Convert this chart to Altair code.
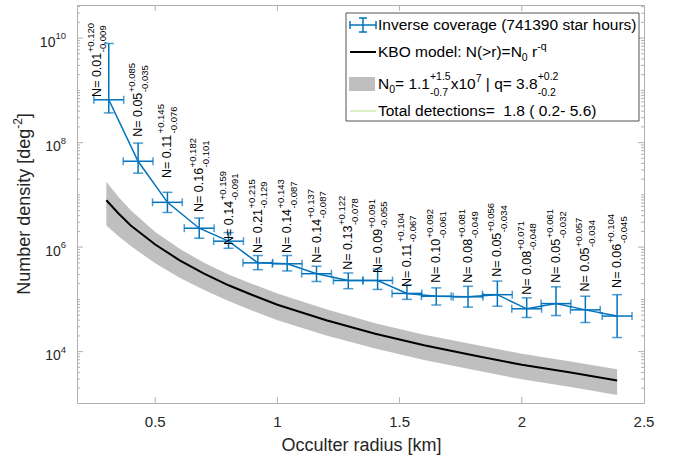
import altair as alt
import pandas as pd

# ---------------- data ----------------
radius = [0.31, 0.43, 0.55, 0.68, 0.80, 0.92, 1.04, 1.16, 1.29, 1.41,
          1.53, 1.65, 1.78, 1.90, 2.02, 2.14, 2.26, 2.39]
density = [6.6e8, 4.4e7, 7.2e6, 2.3e6, 1.3e6, 5.0e5, 4.8e5, 3.1e5, 2.3e5, 2.3e5,
           1.3e5, 1.15e5, 1.12e5, 1.23e5, 6.6e4, 8.3e4, 6.3e4, 4.8e4]
density_hi = [7.9e9, 9.8e7, 1.12e7, 3.6e6, 1.9e6, 6.9e5, 6.9e5, 4.3e5, 3.2e5, 3.8e5,
              1.9e5, 1.66e5, 1.78e5, 2.24e5, 1.07e5, 1.74e5, 1.15e5, 1.23e5]
density_lo = [3.7e8, 2.6e7, 4.6e6, 1.48e6, 9.5e5, 3.7e5, 3.5e5, 2.2e5, 1.6e5, 1.55e5,
              1.0e5, 7.8e4, 7.1e4, 7.4e4, 4.5e4, 4.9e4, 3.6e4, 1.86e4]
bin_half_width = 0.061

n_value = ["0.01", "0.05", "0.11", "0.16", "0.14", "0.21", "0.14", "0.14", "0.13",
           "0.09", "0.11", "0.10", "0.08", "0.05", "0.08", "0.05", "0.05", "0.06"]
n_plus = ["+0.120", "+0.085", "+0.145", "+0.182", "+0.159", "+0.215", "+0.143", "+0.137",
          "+0.122", "+0.091", "+0.104", "+0.092", "+0.081", "+0.056", "+0.071", "+0.061",
          "+0.057", "+0.104"]
n_minus = ["-0.009", "-0.035", "-0.076", "-0.101", "-0.091", "-0.129", "-0.087", "-0.087",
           "-0.078", "-0.055", "-0.067", "-0.061", "-0.049", "-0.034", "-0.048", "-0.032",
           "-0.034", "-0.045"]
# where each annotation starts (radius, density)
label_r = [0.26] + radius[1:]
label_y = [7.5e8, 1.29e8, 2.1e7, 4.7e6, 1.1e6, 7.7e5, 7.7e5, 5.0e5, 3.7e5, 3.2e5,
           1.73e5, 2.07e5, 2.07e5, 2.7e5, 1.22e5, 2.07e5, 1.41e5, 1.66e5]

model_r = [0.3, 0.35, 0.4, 0.5, 0.6, 0.7, 0.8, 0.9, 1.0, 1.2, 1.4, 1.6, 1.8, 2.0, 2.2, 2.39]
model_mid = [7.9e6, 4.4e6, 2.6e6, 1.12e6, 5.6e5, 3.1e5, 1.86e5, 1.2e5, 7.9e4, 4.0e4,
             2.2e4, 1.32e4, 8.5e3, 5.6e3, 4.0e3, 2.8e3]
model_top = [1.78e7, 9.1e6, 5.1e6, 1.95e6, 9.3e5, 5.0e5, 3.0e5, 1.95e5, 1.29e5, 6.5e4,
             3.5e4, 2.1e4, 1.38e4, 9.1e3, 6.5e3, 4.6e3]
model_bot = [2.6e6, 1.62e6, 1.05e6, 4.9e5, 2.6e5, 1.51e5, 9.3e4, 6.0e4, 4.0e4, 2.04e4,
             1.15e4, 6.9e3, 4.5e3, 2.95e3, 2.1e3, 1.48e3]

x_ticks = [0.5, 1, 1.5, 2, 2.5]
x_tick_text = ["0.5", "1", "1.5", "2", "2.5"]
y_major = [1e4, 1e6, 1e8, 1e10]
y_major_exp = ["4", "6", "8", "10"]

# ---------------- styling / layout ----------------
FONT = "Liberation Sans"
W, H = 567, 398
PAD = {"left": 77, "top": 5, "right": 32, "bottom": 55}
BLUE = "#0072BD"
FRAME = "#b0b0b0"
TXT = "#262626"
NB = "\u00a0"

AW = {' ': 278, NB: 278, '(': 333, ')': 333, '+': 584, '-': 333, '.': 278, ':': 278,
      '<': 584, '=': 584, '>': 584, '[': 278, ']': 278, '|': 260,
      'A': 667, 'B': 667, 'C': 722, 'D': 722, 'E': 667, 'F': 611, 'G': 778, 'H': 722,
      'I': 278, 'J': 500, 'K': 667, 'L': 556, 'M': 833, 'N': 722, 'O': 778, 'P': 667,
      'Q': 778, 'R': 722, 'S': 667, 'T': 611, 'U': 722, 'V': 667, 'W': 944, 'X': 667,
      'Y': 667, 'Z': 611,
      'a': 556, 'b': 556, 'c': 500, 'd': 556, 'e': 556, 'f': 278, 'g': 556, 'h': 556,
      'i': 222, 'j': 222, 'k': 500, 'l': 222, 'm': 833, 'n': 556, 'o': 556, 'p': 556,
      'q': 556, 'r': 333, 's': 500, 't': 278, 'u': 556, 'v': 500, 'w': 722, 'x': 500,
      'y': 500, 'z': 500}


def tw(s, size):
    return sum(AW.get(c, 556) for c in s) * size / 1000.0


def nb(s):
    return s.replace(" ", NB)


XS = alt.Scale(domain=[0.18, 2.5], nice=False, zero=False)
YS = alt.Scale(type="log", domain=[1.04e3, 4.3e10], nice=False)

pts = pd.DataFrame({"r": radius, "n": density, "hi": density_hi, "lo": density_lo})
pts["rlo"] = pts["r"] - bin_half_width
pts["rhi"] = pts["r"] + bin_half_width

model = pd.DataFrame({"r": model_r, "mid": model_mid, "top": model_top, "bot": model_bot})

band = alt.Chart(model).mark_area(color="#bfbfbf", opacity=1).encode(
    x=alt.X("r:Q", scale=XS, axis=None),
    y=alt.Y("top:Q", scale=YS, axis=None),
    y2="bot:Q",
)
model_line = alt.Chart(model).mark_line(color="black", strokeWidth=2).encode(
    x=alt.X("r:Q", scale=XS, axis=None),
    y=alt.Y("mid:Q", scale=YS, axis=None),
)

base = alt.Chart(pts)
data_line = base.mark_line(color=BLUE, strokeWidth=1.5).encode(
    x=alt.X("r:Q", scale=XS, axis=None), y=alt.Y("n:Q", scale=YS, axis=None))
v_err = base.mark_rule(color=BLUE, strokeWidth=1.5).encode(
    x=alt.X("r:Q", scale=XS, axis=None), y=alt.Y("lo:Q", scale=YS, axis=None), y2="hi:Q")
v_cap_hi = base.mark_tick(color=BLUE, orient="horizontal", size=10, thickness=1.5).encode(
    x=alt.X("r:Q", scale=XS, axis=None), y=alt.Y("hi:Q", scale=YS, axis=None))
v_cap_lo = base.mark_tick(color=BLUE, orient="horizontal", size=10, thickness=1.5).encode(
    x=alt.X("r:Q", scale=XS, axis=None), y=alt.Y("lo:Q", scale=YS, axis=None))
h_err = base.mark_rule(color=BLUE, strokeWidth=1.5).encode(
    x=alt.X("rlo:Q", scale=XS, axis=None), x2="rhi:Q", y=alt.Y("n:Q", scale=YS, axis=None))
h_cap_lo = base.mark_tick(color=BLUE, orient="vertical", size=8, thickness=1.5).encode(
    x=alt.X("rlo:Q", scale=XS, axis=None), y=alt.Y("n:Q", scale=YS, axis=None))
h_cap_hi = base.mark_tick(color=BLUE, orient="vertical", size=8, thickness=1.5).encode(
    x=alt.X("rhi:Q", scale=XS, axis=None), y=alt.Y("n:Q", scale=YS, axis=None))

# ---------------- rotated annotations ----------------
labels = pd.DataFrame({"r": label_r, "y": label_y,
                       "main": [nb("N= " + v) for v in n_value],
                       "plus": n_plus, "minus": n_minus})
LF, SF = 12.5, 9.5
main_w = tw("N= 0.01", LF)
lab_enc = dict(x=alt.X("r:Q", scale=XS, axis=None), y=alt.Y("y:Q", scale=YS, axis=None))
lab_main = alt.Chart(labels).mark_text(angle=270, align="left", baseline="middle",
                                       fontSize=LF, font=FONT, color="black").encode(
    text="main:N", **lab_enc)
lab_plus = alt.Chart(labels).mark_text(angle=270, align="left", baseline="middle",
                                       fontSize=SF, font=FONT, color="black",
                                       dx=main_w + 0.5, dy=-6).encode(text="plus:N", **lab_enc)
lab_minus = alt.Chart(labels).mark_text(angle=270, align="left", baseline="middle",
                                        fontSize=SF, font=FONT, color="black",
                                        dx=main_w + 0.5, dy=6.5).encode(text="minus:N", **lab_enc)

# ---------------- inward ticks (MATLAB box style) ----------------
y_minor = [m * 10 ** k for k in range(3, 11) for m in range(1, 10)
           if not (m == 1 and k % 2 == 0) and 1.04e3 < m * 10 ** k < 4.3e10]
tk_major = pd.DataFrame({"v": y_major})
tk_minor = pd.DataFrame({"v": y_minor})
tk_x = pd.DataFrame({"v": x_ticks[:-1]})


def yticks(df, x1, x2):
    return alt.Chart(df).mark_rule(color=FRAME, strokeWidth=1).encode(
        y=alt.Y("v:Q", scale=YS, axis=None), x=alt.value(x1), x2=alt.value(x2))


def xticks(df, y1, y2):
    return alt.Chart(df).mark_rule(color=FRAME, strokeWidth=1).encode(
        x=alt.X("v:Q", scale=XS, axis=None), y=alt.value(y1), y2=alt.value(y2))


ticks = [yticks(tk_major, 0, 6), yticks(tk_major, W, W - 6),
         yticks(tk_minor, 0, 3), yticks(tk_minor, W, W - 3),
         xticks(tk_x, H, H - 6), xticks(tk_x, 0, 6)]

# ---------------- tick labels ----------------
xlab = pd.DataFrame({"v": x_ticks, "t": x_tick_text})
xlab_text = alt.Chart(xlab).mark_text(align="center", baseline="middle", fontSize=15,
                                      font=FONT, color=TXT).encode(
    x=alt.X("v:Q", scale=XS, axis=None), y=alt.value(H + 19), text="t:N")

BF, EF = 14, 9.5
YL_RIGHT = -11
ylab = pd.DataFrame({"v": y_major, "e": y_major_exp})
ylab["bx"] = [YL_RIGHT - tw(e, EF) for e in y_major_exp]
ylab["ex"] = YL_RIGHT
ylab["b"] = "10"
ylab_base = alt.Chart(ylab).mark_text(align="right", baseline="alphabetic", fontSize=BF,
                                      font=FONT, color=TXT, dy=8.5).encode(
    x=alt.X("bx:Q", scale=None, axis=None), y=alt.Y("v:Q", scale=YS, axis=None), text="b:N")
ylab_exp = alt.Chart(ylab).mark_text(align="right", baseline="alphabetic", fontSize=EF,
                                     font=FONT, color=TXT, dy=1.1).encode(
    x=alt.X("ex:Q", scale=None, axis=None), y=alt.Y("v:Q", scale=YS, axis=None), text="e:N")

# ---------------- axis titles ----------------
TF = 18
one = pd.DataFrame({"a": [0]})
x_title = alt.Chart(one).mark_text(align="center", baseline="middle", fontSize=TF,
                                   font=FONT, color=TXT, text="Occulter radius [km]").encode(
    x=alt.value(W / 2 + 1), y=alt.value(441))

yt_parts = [(nb("Number density [deg"), TF, 0), ("-2", 12, -7), ("]", TF, 0)]
yt_len = sum(tw(t, s) for t, s, _ in yt_parts)
yt_start = 199 + yt_len / 2
y_title = []
off = 0.0
for t, s, d in yt_parts:
    y_title.append(alt.Chart(one).mark_text(angle=270, align="left", baseline="middle",
                                            fontSize=s, font=FONT, color=TXT, text=t,
                                            dx=off, dy=d).encode(
        x=alt.value(-52), y=alt.value(yt_start)))
    off += tw(t, s)

# ---------------- legend (drawn by hand) ----------------
LX0 = 346 - PAD["left"]
LX1 = 639 - PAD["left"]
LY0 = 13 - PAD["top"]
LY1 = 121 - PAD["top"]
legend_box = alt.Chart(one).mark_rect(fill="white", stroke="#262626", strokeWidth=0.8).encode(
    x=alt.value(LX0), x2=alt.value(LX1), y=alt.value(LY0), y2=alt.value(LY1))

rows_y = [20, 47, 79, 106]
sx0, sx1 = LX0 + 4, LX0 + 30
sxc = (sx0 + sx1) / 2


def seg(x1, x2, y1, y2, color, width):
    return alt.Chart(one).mark_rule(color=color, strokeWidth=width).encode(
        x=alt.value(x1), x2=alt.value(x2), y=alt.value(y1), y2=alt.value(y2))


legend_syms = [
    seg(sx0, sx1, rows_y[0], rows_y[0], BLUE, 1.5),
    seg(sxc, sxc, rows_y[0] - 7, rows_y[0] + 7, BLUE, 1.5),
    seg(sxc - 4, sxc + 4, rows_y[0] - 7, rows_y[0] - 7, BLUE, 1.5),
    seg(sxc - 4, sxc + 4, rows_y[0] + 7, rows_y[0] + 7, BLUE, 1.5),
    seg(sx0, sx0, rows_y[0] - 4, rows_y[0] + 4, BLUE, 1.5),
    seg(sx1, sx1, rows_y[0] - 4, rows_y[0] + 4, BLUE, 1.5),
    seg(sx0, sx1, rows_y[1], rows_y[1], "black", 2),
    alt.Chart(one).mark_rect(color="#bfbfbf").encode(
        x=alt.value(sx0 - 1), x2=alt.value(sx1 - 1),
        y=alt.value(rows_y[2] - 7), y2=alt.value(rows_y[2] + 7)),
    seg(sx0, sx1, rows_y[3], rows_y[3], "#b5e08a", 1),
]

MF, SSF = 15.5, 10.5


def layout(parts, x0, base_y):
    out = []
    x = x0
    for p in parts:
        kind = p[0]
        if kind == "n":
            txt = p[1]
            stripped = txt.lstrip(" ")
            x += tw(txt[:len(txt) - len(stripped)], MF)   # leading blanks become an offset
            out.append((nb(stripped), x, base_y, MF))
            x += tw(stripped, MF)
        elif kind == "sup":
            out.append((p[1], x, base_y - 7, SSF))
            x += tw(p[1], SSF)
        elif kind == "sub":
            out.append((p[1], x, base_y + 4, SSF))
            x += tw(p[1], SSF)
        elif kind == "ss":
            out.append((p[1], x, base_y - 9, SSF))
            out.append((p[2], x, base_y + 7, SSF))
            x += max(tw(p[1], SSF), tw(p[2], SSF))
    return out


TX = 378 - PAD["left"]
pieces = []
pieces += layout([("n", "Inverse coverage (741390 star hours)")], TX, rows_y[0] + 5)
pieces += layout([("n", "KBO model: N(>r)=N"), ("sub", "0"), ("n", " r"), ("sup", "-q")],
                 TX, rows_y[1] + 5)
pieces += layout([("n", "N"), ("sub", "0"), ("n", "= 1.1"), ("ss", "+1.5", "-0.7"),
                  ("n", "x10"), ("sup", "7"), ("n", " | q= 3.8"), ("ss", "+0.2", "-0.2")],
                 TX, rows_y[2] + 5)
pieces += layout([("n", "Total detections=  1.8 ( 0.2- 5.6)")], TX, rows_y[3] + 5)
leg_txt = pd.DataFrame(pieces, columns=["t", "px", "py", "fs"])
legend_text = alt.Chart(leg_txt).mark_text(align="left", baseline="alphabetic", font=FONT,
                                           color="black").encode(
    x=alt.X("px:Q", scale=None, axis=None), y=alt.Y("py:Q", scale=None, axis=None),
    size=alt.Size("fs:Q", scale=None, legend=None), text="t:N")

layers = ([band, model_line, data_line, v_err, h_err, v_cap_hi, v_cap_lo, h_cap_lo, h_cap_hi,
           lab_main, lab_plus, lab_minus] + ticks + [xlab_text, ylab_base, ylab_exp, x_title]
          + y_title + [legend_box] + legend_syms + [legend_text])

chart = alt.layer(*layers).properties(
    width=W, height=H, padding=PAD, autosize=alt.AutoSizeParams(type="none"),
    background="white",
).configure_view(stroke=FRAME, strokeWidth=1)

chart.save("out.html", embed_options={"renderer": "svg", "actions": False})
